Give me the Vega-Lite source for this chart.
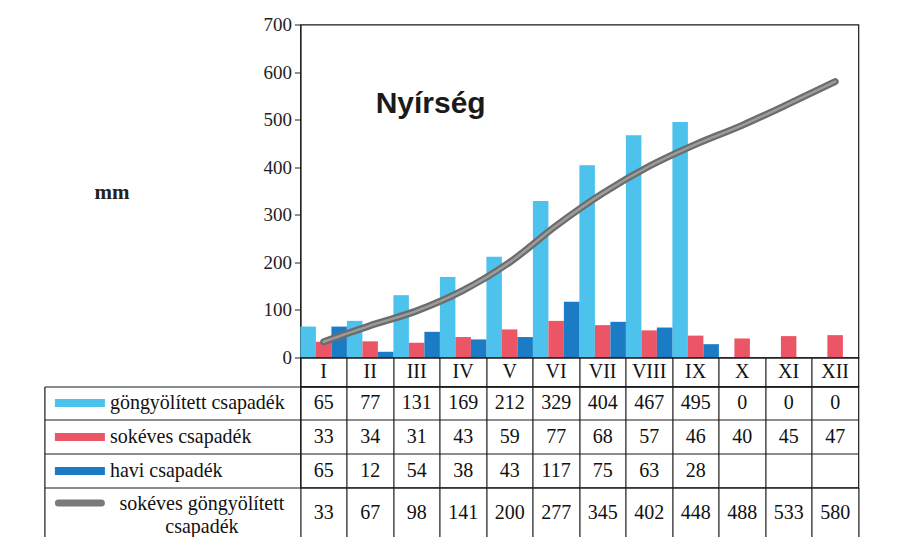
{
  "$schema": "https://vega.github.io/schema/vega-lite/v6.json",
  "padding": {"left": 42.4, "top": 14.5, "right": 5, "bottom": 0},
  "background": "white",
  "config": {"view": {"stroke": "#1a1a1a", "strokeWidth": 1.2}, "font": "Liberation Serif"},
  "datasets": {
    "bars": [
      {"ho": "I", "sor": "göngyölített csapadék", "v": 65},
      {"ho": "II", "sor": "göngyölített csapadék", "v": 77},
      {"ho": "III", "sor": "göngyölített csapadék", "v": 131},
      {"ho": "IV", "sor": "göngyölített csapadék", "v": 169},
      {"ho": "V", "sor": "göngyölített csapadék", "v": 212},
      {"ho": "VI", "sor": "göngyölített csapadék", "v": 329},
      {"ho": "VII", "sor": "göngyölített csapadék", "v": 404},
      {"ho": "VIII", "sor": "göngyölített csapadék", "v": 467},
      {"ho": "IX", "sor": "göngyölített csapadék", "v": 495},
      {"ho": "X", "sor": "göngyölített csapadék", "v": 0},
      {"ho": "XI", "sor": "göngyölített csapadék", "v": 0},
      {"ho": "XII", "sor": "göngyölített csapadék", "v": 0},
      {"ho": "I", "sor": "sokéves csapadék", "v": 33},
      {"ho": "II", "sor": "sokéves csapadék", "v": 34},
      {"ho": "III", "sor": "sokéves csapadék", "v": 31},
      {"ho": "IV", "sor": "sokéves csapadék", "v": 43},
      {"ho": "V", "sor": "sokéves csapadék", "v": 59},
      {"ho": "VI", "sor": "sokéves csapadék", "v": 77},
      {"ho": "VII", "sor": "sokéves csapadék", "v": 68},
      {"ho": "VIII", "sor": "sokéves csapadék", "v": 57},
      {"ho": "IX", "sor": "sokéves csapadék", "v": 46},
      {"ho": "X", "sor": "sokéves csapadék", "v": 40},
      {"ho": "XI", "sor": "sokéves csapadék", "v": 45},
      {"ho": "XII", "sor": "sokéves csapadék", "v": 47},
      {"ho": "I", "sor": "havi csapadék", "v": 65},
      {"ho": "II", "sor": "havi csapadék", "v": 12},
      {"ho": "III", "sor": "havi csapadék", "v": 54},
      {"ho": "IV", "sor": "havi csapadék", "v": 38},
      {"ho": "V", "sor": "havi csapadék", "v": 43},
      {"ho": "VI", "sor": "havi csapadék", "v": 117},
      {"ho": "VII", "sor": "havi csapadék", "v": 75},
      {"ho": "VIII", "sor": "havi csapadék", "v": 63},
      {"ho": "IX", "sor": "havi csapadék", "v": 28}
    ],
    "cum": [
      {"ho": "I", "sor": "sokéves göngyölített csapadék", "v": 33},
      {"ho": "II", "sor": "sokéves göngyölített csapadék", "v": 67},
      {"ho": "III", "sor": "sokéves göngyölített csapadék", "v": 98},
      {"ho": "IV", "sor": "sokéves göngyölített csapadék", "v": 141},
      {"ho": "V", "sor": "sokéves göngyölített csapadék", "v": 200},
      {"ho": "VI", "sor": "sokéves göngyölített csapadék", "v": 277},
      {"ho": "VII", "sor": "sokéves göngyölített csapadék", "v": 345},
      {"ho": "VIII", "sor": "sokéves göngyölített csapadék", "v": 402},
      {"ho": "IX", "sor": "sokéves göngyölített csapadék", "v": 448},
      {"ho": "X", "sor": "sokéves göngyölített csapadék", "v": 488},
      {"ho": "XI", "sor": "sokéves göngyölített csapadék", "v": 533},
      {"ho": "XII", "sor": "sokéves göngyölített csapadék", "v": 580}
    ]
  },
  "spacing": 0,
  "bounds": "flush",
  "vconcat": [
    {
      "width": 558,
      "height": 333,
      "layer": [
        {
          "data": {"name": "bars"},
          "mark": {"type": "bar"},
          "encoding": {
            "x": {"field": "ho", "type": "nominal", "sort": ["I","II","III","IV","V","VI","VII","VIII","IX","X","XI","XII"], "scale": {"type": "band", "paddingInner": 0, "paddingOuter": 0}, "axis": null},
            "xOffset": {"field": "sor", "type": "nominal", "sort": ["göngyölített csapadék", "sokéves csapadék", "havi csapadék"], "scale": {"paddingInner": 0, "paddingOuter": 0}},
            "y": {"field": "v", "type": "quantitative", "scale": {"domain": [0, 700], "nice": false},
              "axis": {"values": [0,100,200,300,400,500,600,700], "grid": false, "tickSize": 6, "tickColor": "#222", "domainColor": "#222", "domainWidth": 1.2, "labelFont": "Liberation Serif", "labelFontSize": 19, "labelColor": "#222", "labelPadding": 3,
                "title": "mm", "titleAngle": 0, "titleX": -189, "titleY": 168, "titleFont": "Liberation Serif", "titleFontSize": 21, "titleFontWeight": "bold", "titleColor": "#222", "titleAlign": "center", "titleBaseline": "middle"}},
            "color": {"field": "sor", "type": "nominal", "scale": {"domain": ["göngyölített csapadék", "sokéves csapadék", "havi csapadék"], "range": ["#4dc2ec", "#ec5565", "#1b7cc5"]}, "legend": null}
          }
        },
        {
          "data": {"name": "cum"},
          "mark": {"type": "line", "interpolate": "monotone", "color": "#6c6c6c", "strokeWidth": 7, "strokeCap": "round"},
          "encoding": {
            "x": {"field": "ho", "type": "nominal", "sort": ["I","II","III","IV","V","VI","VII","VIII","IX","X","XI","XII"]},
            "y": {"field": "v", "type": "quantitative"}
          }
        },
        {
          "data": {"name": "cum"},
          "mark": {"type": "line", "interpolate": "monotone", "color": "#9c9c9c", "strokeWidth": 2.5, "strokeCap": "round"},
          "encoding": {
            "x": {"field": "ho", "type": "nominal", "sort": ["I","II","III","IV","V","VI","VII","VIII","IX","X","XI","XII"]},
            "y": {"field": "v", "type": "quantitative"}
          }
        },
        {
          "data": {"values": [{}]},
          "mark": {"type": "text", "font": "Liberation Sans", "fontWeight": "bold", "fontSize": 30, "baseline": "alphabetic", "align": "center", "dx": 14, "color": "#1a1a1a"},
          "encoding": {
            "x": {"datum": "III"},
            "y": {"datum": 515},
            "text": {"value": "Nyírség"}
          }
        }
      ]
    },
    {
      "width": 558,
      "height": 29,
      "data": {"name": "cum"},
      "mark": {"type": "text", "font": "Liberation Serif", "fontSize": 20, "color": "#111"},
      "encoding": {
        "x": {"field": "ho", "type": "nominal", "sort": ["I","II","III","IV","V","VI","VII","VIII","IX","X","XI","XII"], "scale": {"type": "band", "paddingInner": 0, "paddingOuter": 0},
          "axis": {"orient": "bottom", "labels": false, "ticks": false, "domain": false, "grid": true, "gridColor": "#1a1a1a", "gridWidth": 1.2, "gridOpacity": 1, "bandPosition": 0, "title": null}},
        "text": {"field": "ho"}
      }
    },
    {
      "width": 558,
      "height": 101,
      "data": {"name": "bars"},
      "resolve": {"axis": {"y": "independent"}},
      "layer": [
        {
          "mark": {"type": "text", "font": "Liberation Serif", "fontSize": 20, "color": "#111"},
          "encoding": {
            "x": {"field": "ho", "type": "nominal", "sort": ["I","II","III","IV","V","VI","VII","VIII","IX","X","XI","XII"], "scale": {"type": "band", "paddingInner": 0, "paddingOuter": 0},
              "axis": {"orient": "bottom", "labels": false, "ticks": false, "domain": false, "grid": true, "gridColor": "#1a1a1a", "gridWidth": 1.2, "gridOpacity": 1, "bandPosition": 0, "title": null}},
            "y": {"field": "sor", "type": "nominal", "sort": ["göngyölített csapadék", "sokéves csapadék", "havi csapadék"], "scale": {"type": "band", "paddingInner": 0, "paddingOuter": 0},
              "axis": {"orient": "left", "ticks": false, "tickSize": 0, "domain": false, "grid": false, "labelAlign": "left", "labelBaseline": "middle", "labelPadding": 191, "labelFont": "Liberation Serif", "labelFontSize": 20, "labelColor": "#111", "labelLimit": 0, "bandPosition": 0.5, "title": null}},
            "text": {"field": "v", "type": "quantitative"}
          }
        },
        {
          "mark": {"type": "point", "opacity": 0},
          "encoding": {
            "y": {"field": "sor", "type": "nominal", "sort": ["göngyölített csapadék", "sokéves csapadék", "havi csapadék"], "scale": {"type": "band", "paddingInner": 0, "paddingOuter": 0},
              "axis": {"orient": "left", "ticks": true, "tickSize": 256, "tickColor": "#1a1a1a", "tickWidth": 1.2, "labels": false, "domain": false, "grid": true, "gridColor": "#1a1a1a", "gridWidth": 1.2, "gridOpacity": 1, "bandPosition": 0, "title": null}}
          }
        },
        {
          "mark": {"type": "point", "opacity": 0},
          "encoding": {
            "y": {"field": "sor", "type": "nominal", "sort": ["göngyölített csapadék", "sokéves csapadék", "havi csapadék"], "scale": {"type": "band", "paddingInner": 0, "paddingOuter": 0},
              "axis": {"orient": "left", "offset": 196, "ticks": true, "tickSize": 50, "tickWidth": 8, "tickCap": "butt",
                "tickColor": {"condition": [{"test": "datum.value === 'sokéves csapadék'", "value": "#ec5565"}, {"test": "datum.value === 'havi csapadék'", "value": "#1b7cc5"}], "value": "#4dc2ec"},
                "labels": false, "domain": false, "grid": false, "bandPosition": 0.5, "title": null}}
          }
        },
        {
          "mark": {"type": "point", "opacity": 0},
          "encoding": {
            "y": {"field": "sor", "type": "nominal", "sort": ["göngyölített csapadék", "sokéves csapadék", "havi csapadék"], "scale": {"type": "band", "paddingInner": 0, "paddingOuter": 0},
              "axis": {"orient": "left", "offset": 256, "ticks": false, "labels": false, "domain": true, "domainColor": "#1a1a1a", "domainWidth": 1.2, "grid": false, "title": null}}
          }
        }
      ]
    },
    {
      "width": 558,
      "height": 50,
      "view": {"stroke": null},
      "data": {"name": "cum"},
      "resolve": {"axis": {"y": "independent"}},
      "layer": [
        {
          "mark": {"type": "text", "font": "Liberation Serif", "fontSize": 20, "color": "#111", "dy": 1},
          "encoding": {
            "x": {"field": "ho", "type": "nominal", "sort": ["I","II","III","IV","V","VI","VII","VIII","IX","X","XI","XII"], "scale": {"type": "band", "paddingInner": 0, "paddingOuter": 0},
              "axis": {"orient": "bottom", "labels": false, "ticks": false, "domain": false, "grid": true, "gridColor": "#1a1a1a", "gridWidth": 1.2, "gridOpacity": 1, "bandPosition": 1, "title": null}},
            "y": {"field": "sor", "type": "nominal", "scale": {"type": "band", "paddingInner": 0, "paddingOuter": 0},
              "axis": {"orient": "left", "ticks": false, "tickSize": 0, "domain": false, "grid": false, "labelAlign": "center", "labelBaseline": "middle", "labelPadding": 99, "labelOffset": -8.5, "labelLineHeight": 23, "labelExpr": "['sokéves göngyölített', 'csapadék']", "labelFont": "Liberation Serif", "labelFontSize": 20, "labelColor": "#111", "labelLimit": 0, "bandPosition": 0.5, "title": null}},
            "text": {"field": "v", "type": "quantitative"}
          }
        },
        {
          "mark": {"type": "point", "opacity": 0},
          "encoding": {
            "y": {"field": "sor", "type": "nominal", "scale": {"type": "band", "paddingInner": 0, "paddingOuter": 0},
              "axis": {"orient": "left", "ticks": true, "tickSize": 256, "tickColor": "#1a1a1a", "tickWidth": 1.2, "labels": false, "domain": true, "domainColor": "#1a1a1a", "domainWidth": 1.2, "grid": true, "gridColor": "#1a1a1a", "gridWidth": 1.2, "gridOpacity": 1, "bandPosition": 0, "title": null}}
          }
        },
        {
          "mark": {"type": "point", "opacity": 0},
          "encoding": {
            "y": {"field": "sor", "type": "nominal", "scale": {"type": "band", "paddingInner": 0, "paddingOuter": 0},
              "axis": {"orient": "left", "offset": 199.5, "ticks": true, "tickSize": 43, "tickWidth": 7, "tickCap": "round", "tickColor": "#7a7a7a", "tickOffset": -10,
                "labels": false, "domain": false, "grid": false, "bandPosition": 0.5, "title": null}}
          }
        },
        {
          "mark": {"type": "point", "opacity": 0},
          "encoding": {
            "y": {"field": "sor", "type": "nominal", "scale": {"type": "band", "paddingInner": 0, "paddingOuter": 0},
              "axis": {"orient": "left", "offset": 256, "ticks": false, "labels": false, "domain": true, "domainColor": "#1a1a1a", "domainWidth": 1.2, "grid": false, "title": null}}
          }
        }
      ]
    }
  ]
}
